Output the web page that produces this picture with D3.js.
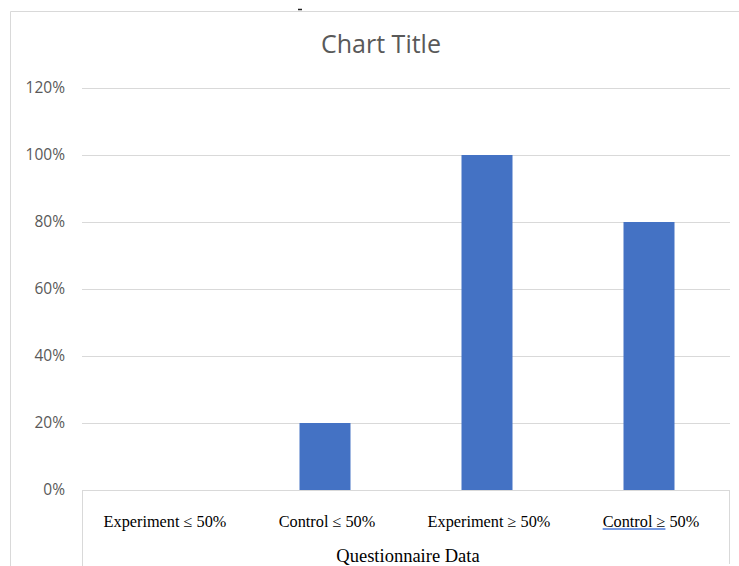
<!DOCTYPE html>
<html>
<head>
<meta charset="utf-8">
<script src="https://cdn.jsdelivr.net/npm/d3@7/dist/d3.min.js"></script>
<style>
  html, body { margin: 0; padding: 0; background: #ffffff; }
  svg { display: block; }
</style>
</head>
<body>
<script>
const categories = ["Experiment \u2264 50%", "Control \u2264 50%", "Experiment \u2265 50%", "Control \u2265 50%"];
const values = [0, 0.2, 1.0, 0.8];
const yTicks = [0, 0.2, 0.4, 0.6, 0.8, 1.0, 1.2];
const chartTitle = "Chart Title";
const axisTitle = "Questionnaire Data";

const W = 739, H = 566;
const svg = d3.select("body").append("svg").attr("width", W).attr("height", H);

svg.append("rect").attr("width", W).attr("height", H).attr("fill", "#fff");

// outer chart border (top and left)
svg.append("path").attr("d", `M10.5,${H} V11.5 H${W}`).attr("fill", "none").attr("stroke", "#d9d9d9").attr("stroke-width", 1);
// small artifact mark at top
svg.append("line").attr("x1", 298).attr("x2", 302).attr("y1", 9.5).attr("y2", 9.5).attr("stroke", "#222").attr("stroke-width", 1.5);

const x = d3.scaleBand().domain(categories).range([82, 730])
  .paddingInner(1 - 51 / 162).paddingOuter((1 - 51 / 162) / 2);
const y = d3.scaleLinear().domain([0, 1.2]).range([490, 88]);

// gridlines
svg.append("g").selectAll("line").data(yTicks).join("line")
  .attr("x1", 82).attr("x2", 730)
  .attr("y1", d => Math.round(y(d)) + 0.5).attr("y2", d => Math.round(y(d)) + 0.5)
  .attr("stroke", "#d9d9d9").attr("stroke-width", 1);

// y tick labels
const yAxis = d3.axisLeft(y).tickValues(yTicks).tickFormat(d3.format(".0%")).tickSize(0).tickPadding(0);
const gy = svg.append("g").attr("transform", "translate(65,0)").call(yAxis);
gy.select(".domain").remove();
gy.selectAll("text").attr("fill", "#595959").attr("font-family", "'Open Sans', 'Noto Sans', sans-serif").attr("font-size", 15.5);

// bars
svg.append("g").selectAll("rect").data(values).join("rect")
  .attr("x", (d, i) => x(categories[i]))
  .attr("width", x.bandwidth())
  .attr("y", d => y(d))
  .attr("height", d => y(0) - y(d))
  .attr("fill", "#4472C4");

// x-axis label box
const boxTop = 490.5;
svg.append("path").attr("d", `M82.5,${H} V${boxTop} H729.5 V${H - 2}`).attr("fill", "none").attr("stroke", "#d9d9d9").attr("stroke-width", 1);

// category labels
const serif = "'Liberation Serif', 'Times New Roman', serif";
const labels = svg.append("g").selectAll("text").data(categories).join("text")
  .attr("x", d => x(d) + x.bandwidth() / 2 + 2)
  .attr("y", 527)
  .attr("text-anchor", "middle")
  .attr("font-family", serif).attr("font-size", 16.3).attr("fill", "#000")
  .text(d => d);

// spellcheck underline under "Control ≥" of last label
const lastNode = labels.nodes()[3];
const bb = lastNode.getBBox();
const partW = lastNode.getSubStringLength(0, 9);
svg.append("line").attr("x1", bb.x).attr("x2", bb.x + partW)
  .attr("y1", 529).attr("y2", 529).attr("stroke", "#4a78d8").attr("stroke-width", 1.5);

svg.append("text").attr("x", 408).attr("y", 562).attr("text-anchor", "middle")
  .attr("font-family", serif).attr("font-size", 18.5).attr("fill", "#000").text(axisTitle);

// chart title
svg.append("text").attr("x", 381).attr("y", 53).attr("text-anchor", "middle")
  .attr("font-family", "'Open Sans', 'Noto Sans', sans-serif").attr("font-size", 25).attr("fill", "#595959").text(chartTitle);
</script>
</body>
</html>
